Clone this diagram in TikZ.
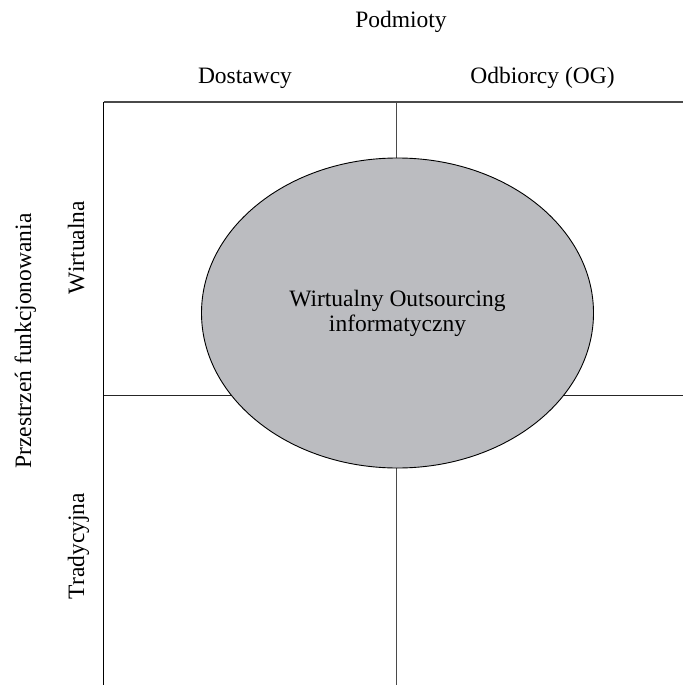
\documentclass[tikz,border=0pt]{standalone}
\usepackage{fontspec}
\setmainfont{Liberation Serif}
\usetikzlibrary{shapes.geometric}
\definecolor{ellfill}{HTML}{BBBCC0}
\definecolor{gridgray}{HTML}{4A4A4A}
\begin{document}
\begin{tikzpicture}[x=1pt,y=-1pt,
  lbl/.style={anchor=base,inner sep=0pt,font=\fontsize{23.5}{25}\selectfont},
  vlbl/.style={lbl,rotate=90},
  gridline/.style={line width=1.2pt,draw=black},
  gridmid/.style={line width=1pt,draw=black!85},
  gridline2/.style={line width=1.5pt,draw=gridgray},
  blob/.style={ellipse,draw=black,line width=0.9pt,fill=ellfill,minimum width=392pt,minimum height=310pt,inner sep=0pt,align=center,font=\fontsize{23.5}{25}\selectfont}]
\useasboundingbox (0,0) rectangle (683,685);
% grid coordinates
\coordinate (tl) at (103.5,102);
\coordinate (tr) at (683,102);
\coordinate (bl) at (103.5,685);
\coordinate (tm) at (396.7,102);
\coordinate (bm) at (396.7,685);
\coordinate (ml) at (103.5,395);
\coordinate (mr) at (683,395);
\draw[gridline2] (tl) -- (tr);
\draw[gridline] (tl) -- (bl);
\draw[gridline2] (tm) -- (bm);
\draw[gridmid] (ml) -- (mr);
% ellipse
\node[blob] (ell) at (397.5,313) {Wirtualny Outsourcing\\informatyczny};
% labels
\node[lbl] (podm) at (401,28) {Podmioty};
\node[lbl] (dost) at (245,83) {Dostawcy};
\node[lbl] (odb) at (542.5,83) {Odbiorcy (OG)};
\node[vlbl] (wirt) at (84,247.5) {Wirtualna};
\node[vlbl] (trad) at (84,546) {Tradycyjna};
\node[vlbl] (prz) at (31,341) {Przestrzeń funkcjonowania};
\end{tikzpicture}
\end{document}
